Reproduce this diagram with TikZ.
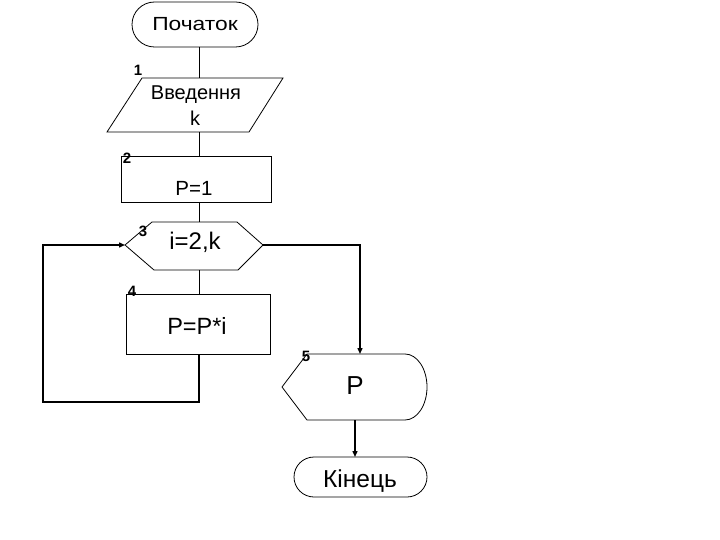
\documentclass[tikz,border=0pt]{standalone}
\usepackage{fontspec}
\setmainfont{Liberation Sans}
\usetikzlibrary{arrows.meta}
\begin{document}
\begin{tikzpicture}[x=1pt,y=-1pt,
  shapeline/.style={draw=black,line width=0.8pt},
  flow/.style={draw=black,line width=0.8pt},
  loopline/.style={draw=black,line width=1.4pt},
  arr/.style={-{Triangle[length=6pt,width=5pt]}},
  txt/.style={inner sep=0pt,font=\fontsize{#1}{#1}\selectfont},
  num/.style={inner sep=0pt,font=\fontsize{15}{15}\selectfont\bfseries}]
\useasboundingbox (0,0) rectangle (720,540);
% coordinates
\coordinate (s1) at (199,47);
\coordinate (p1t) at (199,78);
\coordinate (p1b) at (199,132);
\coordinate (r1t) at (199,156);
\coordinate (r1b) at (199,202);
\coordinate (h1t) at (199,222);
\coordinate (h1b) at (199,270);
\coordinate (h1l) at (125,245);
\coordinate (h1r) at (263,245);
\coordinate (r2t) at (199,294);
\coordinate (r2b) at (199,354);
\coordinate (lp1) at (199,402);
\coordinate (lp2) at (43,402);
\coordinate (lp3) at (43,245);
\coordinate (ex1) at (360,245);
\coordinate (d1t) at (360,354);
\coordinate (d1b) at (355,420);
\coordinate (e1t) at (355,457);
% shapes
\draw[shapeline,rounded corners=22.5pt] (132,2) rectangle (258,47);
\draw[shapeline] (142,78) -- (283,78) -- (249,132) -- (107,132) -- cycle;
\draw[shapeline] (121,156) rectangle (271,202);
\draw[shapeline] (125,245) -- (152,222) -- (237,222) -- (263,245) -- (238,270) -- (154,270) -- cycle;
\draw[shapeline] (126,294) rectangle (270,354);
\draw[shapeline] (282,387) -- (307,354) -- (405,354) arc[start angle=-90,end angle=90,x radius=22,y radius=33] -- (307,420) -- cycle;
\draw[shapeline,rounded corners=20pt] (294,457) rectangle (427,497);
% texts
\node[txt=19] (tstart) at (195,24) {\scalebox{1.2}[1]{Початок}};
\node[txt=20] (tin1) at (196,95) {Введення};
\node[txt=20] (tin2) at (195,118) {k};
\node[txt=20.5] (tp1) at (194,188) {P=1};
\node[txt=24] (tloop) at (195,242) {i=2,k};
\node[txt=23.5] (tpp) at (197,326) {P=P*i};
\node[txt=26] (tout) at (355,386) {P};
\node[txt=24.5] (tend) at (360,481) {Кінець};
\node[num] (n1) at (138,70) {1};
\node[num] (n2) at (127,158) {2};
\node[num] (n3) at (143,231) {3};
\node[num] (n4) at (132,291) {4};
\node[num] (n5) at (306,356) {5};
% connectors
\draw[flow] (s1) -- (p1t);
\draw[flow] (p1b) -- (r1t);
\draw[flow] (r1b) -- (h1t);
\draw[flow] (h1b) -- (r2t);
\draw[loopline,arr] (r2b) -- (lp1) -- (lp2) -- (lp3) -- (h1l);
\draw[loopline,arr] (h1r) -- (ex1) -- (d1t);
\draw[loopline,arr] (d1b) -- (e1t);
\end{tikzpicture}
\end{document}
